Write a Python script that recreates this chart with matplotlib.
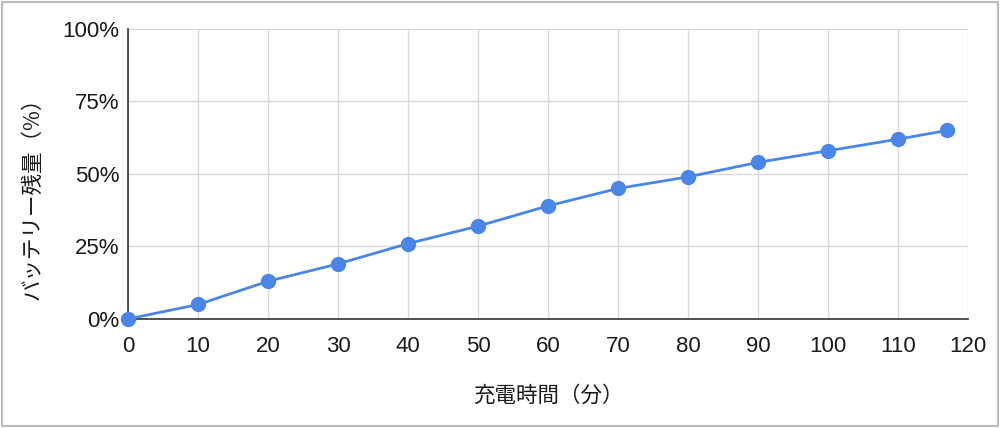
import matplotlib.pyplot as plt
from matplotlib.patches import Rectangle
from matplotlib.ticker import FuncFormatter

minutes = [0, 10, 20, 30, 40, 50, 60, 70, 80, 90, 100, 110, 117]
battery = [0, 5, 13, 19, 26, 32, 39, 45, 49, 54, 58, 62, 65]
x_ticks = list(range(0, 121, 10))
y_ticks = [0, 25, 50, 75, 100]

jp = ['Noto Sans CJK JP', 'DejaVu Sans']
plt.rcParams['font.family'] = ['Liberation Sans', 'DejaVu Sans']

fig = plt.figure(figsize=(10, 4.28), dpi=100)
ax = fig.add_axes([0.128, 0.2547, 0.84, 0.6776])

ax.plot(minutes, battery, color='#4a86e8', linewidth=2,
        marker='o', markersize=10, clip_on=False, zorder=3)

ax.set_xlim(0, 120)
ax.set_ylim(0, 100)
ax.set_xticks(x_ticks)
ax.set_yticks(y_ticks)
ax.yaxis.set_major_formatter(FuncFormatter(lambda v, p: f'{v:.0f}%'))
ax.tick_params(length=0, labelsize=16, colors='#1a1a1a')
ax.tick_params(axis='x', pad=12)
ax.tick_params(axis='y', pad=6)
ax.grid(True, color='#d9d9d9', linewidth=1)
ax.set_axisbelow(True)

for s in ['top', 'right']:
    ax.spines[s].set_visible(False)
for s in ['left', 'bottom']:
    ax.spines[s].set_color('#333333')
    ax.spines[s].set_linewidth(1.2)

ax.set_xlabel('充電時間（分）', family=jp, fontsize=15.5, labelpad=20, color='#1a1a1a')
ax.set_ylabel('バッテリー残量（%）', family=jp, fontsize=15.5, color='#1a1a1a')
ax.yaxis.set_label_coords(-0.1, 0.435)

fig.patches.append(Rectangle((0.002, 0.004), 0.996, 0.992, transform=fig.transFigure,
                             fill=False, edgecolor='#bbbbbb', linewidth=1.5))

fig.savefig('out.png', dpi=100)
